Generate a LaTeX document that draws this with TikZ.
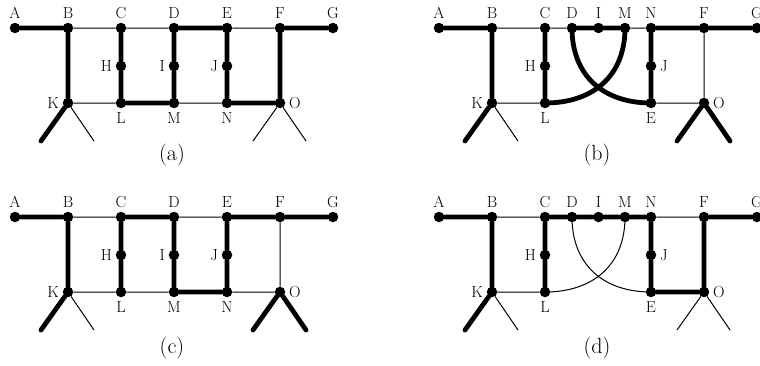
\documentclass[tikz,border=0pt]{standalone}
\begin{document}
\begin{tikzpicture}[x=1pt,y=-1pt,
  dot/.style={circle,fill=black,inner sep=0pt,minimum size=10.5pt},
  lbl/.style={font=\fontsize{16}{18}\selectfont,inner sep=1pt},
  captxt/.style={font=\fontsize{22}{26}\selectfont,inner sep=0pt},
  fat/.style={line width=4.8pt,line cap=round},
  thinline/.style={line width=1pt},
  arcR/.style={out=-90,in=180,looseness=1.12},
  arcL/.style={out=-90,in=0,looseness=1.12},
  every label/.style={lbl},
  label distance=2.5pt]
\useasboundingbox (0,0) rectangle (760,365);

% ---------------- (a) ----------------
\begin{scope}
\node[dot,label=above:A] (aA) at (15,28) {};
\node[dot,label=above:B] (aB) at (68,28) {};
\node[dot,label=above:C] (aC) at (121,28) {};
\node[dot,label=above:D] (aD) at (174,28) {};
\node[dot,label=above:E] (aE) at (227,28) {};
\node[dot,label=above:F] (aF) at (280,28) {};
\node[dot,label=above:G] (aG) at (333,28) {};
\node[dot,label=left:H] (aH) at (121,66) {};
\node[dot,label=left:I] (aI) at (174,66) {};
\node[dot,label=left:J] (aJ) at (227,66) {};
\node[dot,label=left:K] (aK) at (68,103) {};
\node[dot,label=below:L] (aL) at (121,103) {};
\node[dot,label=below:M] (aM) at (174,103) {};
\node[dot,label=below:N] (aN) at (227,103) {};
\node[dot,label=right:O] (aO) at (280,103) {};
\coordinate (aK1) at (41,141); \coordinate (aK2) at (94,141);
\coordinate (aO1) at (253,141); \coordinate (aO2) at (306,141);
\node[captxt] (acap) at (172,155) {(a)};
\draw[thinline] (aB)--(aC) (aC)--(aD) (aE)--(aF) (aK)--(aL) (aM)--(aN)
  (aK)--(aK2) (aO)--(aO1) (aO)--(aO2);
\draw[fat] (aA)--(aB) (aD)--(aE) (aF)--(aG) (aB)--(aK)
  (aC)--(aH) (aH)--(aL) (aD)--(aI) (aI)--(aM) (aE)--(aJ) (aJ)--(aN)
  (aF)--(aO) (aL)--(aM) (aN)--(aO) (aK)--(aK1);
\end{scope}

% ---------------- (b) ----------------
\begin{scope}
\node[dot,label=above:A] (bA) at (439,28) {};
\node[dot,label=above:B] (bB) at (492,28) {};
\node[dot,label=above:C] (bC) at (545,28) {};
\node[dot,label=above:D] (bD) at (572,28) {};
\node[dot,label=above:I] (bI) at (598.5,28) {};
\node[dot,label=above:M] (bM) at (625,28) {};
\node[dot,label=above:N] (bN) at (651,28) {};
\node[dot,label=above:F] (bF) at (704,28) {};
\node[dot,label=above:G] (bG) at (757,28) {};
\node[dot,label=left:H] (bH) at (545,66) {};
\node[dot,label=right:J] (bJ) at (651,66) {};
\node[dot,label=left:K] (bK) at (492,103) {};
\node[dot,label=below:L] (bL) at (545,103) {};
\node[dot,label=below:E] (bE) at (651,103) {};
\node[dot,label=right:O] (bO) at (704,103) {};
\coordinate (bK1) at (465,141); \coordinate (bK2) at (518,141);
\coordinate (bO1) at (677,141); \coordinate (bO2) at (730,141);
\node[captxt] (bcap) at (597,155) {(b)};
\draw[thinline] (bB)--(bC) (bC)--(bD) (bM)--(bN) (bF)--(bO) (bK)--(bL) (bE)--(bO)
  (bK)--(bK2);
\draw[fat] (bA)--(bB) (bD)--(bI) (bI)--(bM) (bN)--(bF) (bF)--(bG)
  (bB)--(bK) (bC)--(bH) (bH)--(bL) (bN)--(bJ) (bJ)--(bE)
  (bK)--(bK1) (bO)--(bO1) (bO)--(bO2)
  (bD.center) to[arcR] (bE.center)
  (bM.center) to[arcL] (bL.center);
\end{scope}

% ---------------- (c) ----------------
\begin{scope}
\node[dot,label=above:A] (cA) at (15,217) {};
\node[dot,label=above:B] (cB) at (68,217) {};
\node[dot,label=above:C] (cC) at (121,217) {};
\node[dot,label=above:D] (cD) at (174,217) {};
\node[dot,label=above:E] (cE) at (227,217) {};
\node[dot,label=above:F] (cF) at (280,217) {};
\node[dot,label=above:G] (cG) at (333,217) {};
\node[dot,label=left:H] (cH) at (121,255) {};
\node[dot,label=left:I] (cI) at (174,255) {};
\node[dot,label=left:J] (cJ) at (227,255) {};
\node[dot,label=left:K] (cK) at (68,292) {};
\node[dot,label=below:L] (cL) at (121,292) {};
\node[dot,label=below:M] (cM) at (174,292) {};
\node[dot,label=below:N] (cN) at (227,292) {};
\node[dot,label=right:O] (cO) at (280,292) {};
\coordinate (cK1) at (41,330); \coordinate (cK2) at (94,330);
\coordinate (cO1) at (253,330); \coordinate (cO2) at (306,330);
\node[captxt] (ccap) at (172,348) {(c)};
\draw[thinline] (cB)--(cC) (cD)--(cE) (cF)--(cO) (cK)--(cL) (cL)--(cM) (cN)--(cO)
  (cK)--(cK2);
\draw[fat] (cA)--(cB) (cC)--(cD) (cE)--(cF) (cF)--(cG) (cB)--(cK)
  (cC)--(cH) (cH)--(cL) (cD)--(cI) (cI)--(cM) (cE)--(cJ) (cJ)--(cN)
  (cM)--(cN) (cK)--(cK1) (cO)--(cO1) (cO)--(cO2);
\end{scope}

% ---------------- (d) ----------------
\begin{scope}
\node[dot,label=above:A] (dA) at (439,217) {};
\node[dot,label=above:B] (dB) at (492,217) {};
\node[dot,label=above:C] (dC) at (545,217) {};
\node[dot,label=above:D] (dD) at (572,217) {};
\node[dot,label=above:I] (dI) at (598.5,217) {};
\node[dot,label=above:M] (dM) at (625,217) {};
\node[dot,label=above:N] (dN) at (651,217) {};
\node[dot,label=above:F] (dF) at (704,217) {};
\node[dot,label=above:G] (dG) at (757,217) {};
\node[dot,label=left:H] (dH) at (545,255) {};
\node[dot,label=right:J] (dJ) at (651,255) {};
\node[dot,label=left:K] (dK) at (492,292) {};
\node[dot,label=below:L] (dL) at (545,292) {};
\node[dot,label=below:E] (dE) at (651,292) {};
\node[dot,label=right:O] (dO) at (704,292) {};
\coordinate (dK1) at (465,330); \coordinate (dK2) at (518,330);
\coordinate (dO1) at (677,330); \coordinate (dO2) at (730,330);
\node[captxt] (dcap) at (597,348) {(d)};
\draw[thinline] (dB)--(dC) (dN)--(dF) (dK)--(dL)
  (dK)--(dK2) (dO)--(dO1) (dO)--(dO2)
  (dD.center) to[arcR] (dE.center)
  (dM.center) to[arcL] (dL.center);
\draw[fat] (dA)--(dB) (dC)--(dD) (dD)--(dI) (dI)--(dM) (dM)--(dN) (dF)--(dG)
  (dB)--(dK) (dC)--(dH) (dH)--(dL) (dN)--(dJ) (dJ)--(dE) (dF)--(dO)
  (dE)--(dO) (dK)--(dK1);
\end{scope}
\end{tikzpicture}
\end{document}
